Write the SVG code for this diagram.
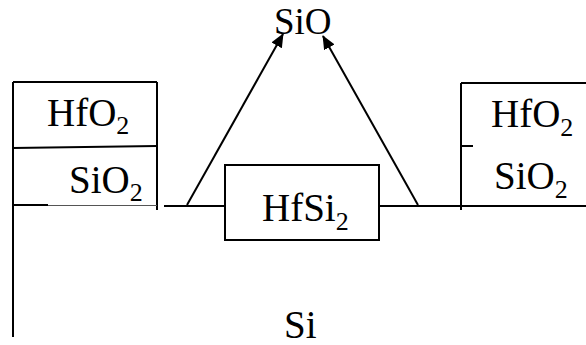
<svg xmlns="http://www.w3.org/2000/svg" width="586" height="345" viewBox="0 0 586 345">
  <style>
    .ln { stroke: #000; stroke-width: 2; fill: none; }
    .thin { stroke: #555; stroke-width: 1; fill: none; }
    .lbl { font-family: "Liberation Serif", "Times New Roman", Times, serif; font-size: 39px; fill: #000; }
    .sub { font-size: 26px; }
  </style>
  <defs>
    <marker id="arrow" viewBox="0 0 14 12" refX="13" refY="6" markerWidth="14" markerHeight="12" markerUnits="userSpaceOnUse" orient="auto">
      <path d="M0,0 L14,6 L0,12 z" fill="#000"/>
    </marker>
  </defs>
  <rect width="586" height="345" fill="#fff"/>

  <!-- left oxide stack -->
  <g id="left-stack">
    <line class="ln" x1="13" y1="82" x2="13" y2="337"/>
    <line class="ln" x1="13" y1="82" x2="157" y2="82"/>
    <line class="ln" x1="157" y1="82" x2="157" y2="210"/>
    <line class="ln" x1="13" y1="148" x2="157" y2="146"/>
    <line class="ln" x1="13" y1="205" x2="48" y2="205"/>
    <line class="thin" x1="48" y1="205.5" x2="157" y2="205.5"/>
    <text class="lbl" x="47" y="126">HfO<tspan class="sub" dy="8">2</tspan></text>
    <text class="lbl" x="69" y="193">SiO<tspan class="sub" dy="8">2</tspan></text>
  </g>

  <!-- right oxide stack -->
  <g id="right-stack">
    <line class="ln" x1="461" y1="83" x2="461" y2="210"/>
    <line class="ln" x1="461" y1="83" x2="586" y2="83"/>
    <line class="ln" x1="461" y1="146" x2="473" y2="146"/>
    <text class="lbl" x="491" y="127">HfO<tspan class="sub" dy="9">2</tspan></text>
    <text class="lbl" x="494" y="189">SiO<tspan class="sub" dy="9">2</tspan></text>
  </g>

  <!-- silicide island -->
  <g id="hfsi2">
    <rect class="ln" x="225" y="165" width="154" height="75"/>
    <text class="lbl" x="262" y="221">HfSi<tspan class="sub" dy="9">2</tspan></text>
  </g>

  <!-- volatile product -->
  <g id="sio">
    <text class="lbl" x="274" y="34" style="font-size:37px">SiO</text>
  </g>

  <!-- substrate -->
  <g id="si">
    <text class="lbl" x="284" y="338">Si</text>
  </g>

  <!-- surface line and desorption arrows -->
  <g id="connectors">
    <line class="ln" x1="164" y1="206" x2="225" y2="206"/>
    <line class="ln" x1="379" y1="206" x2="586" y2="206"/>
    <line class="ln" x1="187" y1="205" x2="283" y2="34" marker-end="url(#arrow)"/>
    <line class="ln" x1="418" y1="205" x2="323" y2="36" marker-end="url(#arrow)"/>
  </g>
</svg>
